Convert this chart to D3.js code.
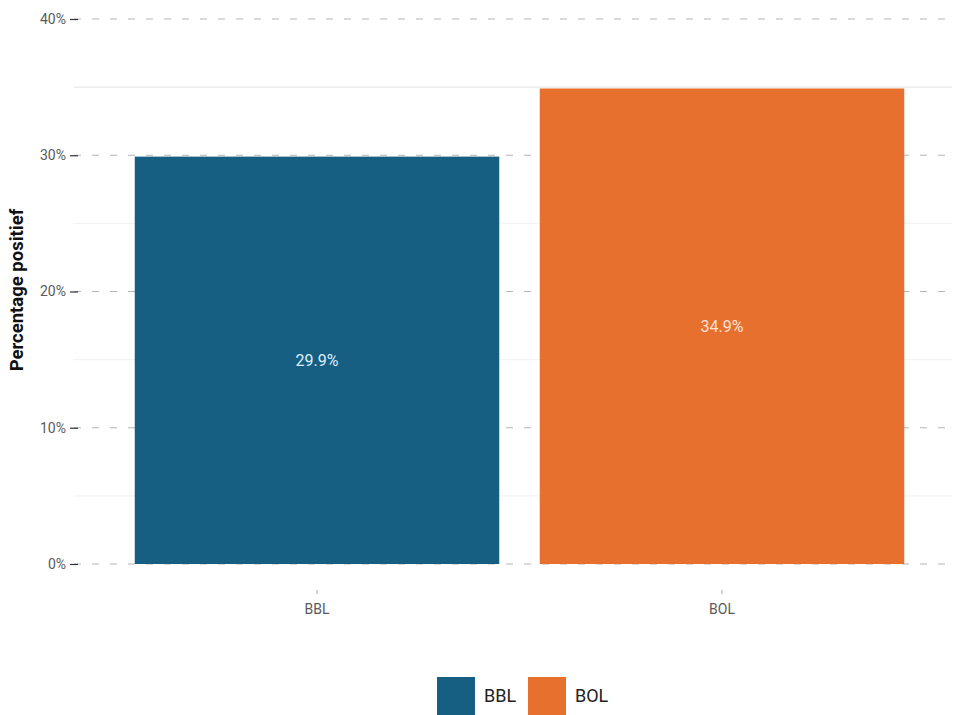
<!DOCTYPE html>
<html><head><meta charset="utf-8">
<script src="https://cdn.jsdelivr.net/npm/d3@7"></script>
<style>body{margin:0;background:#fff;} svg{display:block;font-family:Roboto, "Liberation Sans", sans-serif;}</style>
</head><body><svg id="c" width="964" height="715"></svg>
<script>
const categories = ["BBL", "BOL"];
const values = [29.9, 34.9];
const valueLabels = ["29.9%", "34.9%"];
const colors = ["#165f83", "#e8702f"];
const yTicks = [0, 10, 20, 30, 40];
const yMinor = [5, 15, 25, 35];
const yTickLabels = ["0%", "10%", "20%", "30%", "40%"];

(function () {
const svg = d3.select("#c");
const pLeft = 74, pRight = 965, pTop = 19, pBottom = 564;
const x = d3.scaleBand().domain(categories).range([pLeft, pRight]).paddingInner(0.1).paddingOuter(0.15);
const y = d3.scaleLinear().domain([0, 40]).range([pBottom, pTop]);
const gridRight = 952;

// minor grid
svg.append("g").selectAll("line").data(yMinor).join("line")
  .attr("x1", pLeft).attr("x2", gridRight).attr("y1", d => y(d)).attr("y2", d => y(d))
  .attr("stroke", d => d === 35 ? "#e8e8e8" : "#f3f3f3").attr("stroke-width", 1.3);
// major grid dashed
svg.append("g").selectAll("line").data(yTicks).join("line")
  .attr("x1", pLeft).attr("x2", gridRight).attr("y1", d => y(d)).attr("y2", d => y(d))
  .attr("stroke", "#b5b5b5").attr("stroke-width", 1.2).attr("stroke-dasharray", "7,11");

// bars
svg.append("g").selectAll("rect").data(categories).join("rect")
  .attr("x", d => x(d)).attr("width", x.bandwidth())
  .attr("y", (d, i) => y(values[i])).attr("height", (d, i) => y(0) - y(values[i]))
  .attr("fill", (d, i) => colors[i]);

// value labels
svg.append("g").selectAll("text").data(categories).join("text")
  .attr("x", d => x(d) + x.bandwidth() / 2)
  .attr("y", (d, i) => y(values[i] / 2))
  .attr("dy", "0.35em").attr("text-anchor", "middle")
  .attr("font-size", 16).attr("fill", (d, i) => i === 0 ? "#dcefff" : "#fbe3d6")
  .text((d, i) => valueLabels[i]);

// y axis
const yAxis = d3.axisLeft(y).tickValues(yTicks).tickFormat((d, i) => yTickLabels[i]).tickSize(8).tickPadding(4);
const ya = svg.append("g").attr("transform", `translate(${pLeft + 4},0)`).call(yAxis);
ya.select(".domain").remove();
ya.selectAll("line").attr("stroke", "#333").attr("stroke-width", 1.2);
ya.selectAll("text").attr("font-size", 14).attr("fill", "#5a5a5a").attr("font-family", "Roboto, sans-serif");

// x axis
const xAxis = d3.axisBottom(x).tickSize(4).tickPadding(10);
const xa = svg.append("g").attr("transform", `translate(0,${pBottom + 26})`).call(xAxis);
xa.select(".domain").remove();
xa.selectAll("line").attr("stroke", "#aaa");
xa.selectAll("text").attr("font-size", 14).attr("fill", "#5a5a5a").attr("font-family", "Roboto, sans-serif");

// y title
svg.append("text").attr("transform", "translate(17,290) rotate(-90)")
  .attr("text-anchor", "middle").attr("dy", "0.35em").attr("font-size", 18.5).attr("font-weight", "bold").attr("fill", "#111")
  .text("Percentage positief");

// legend
const legX = [437, 528];
const lg = svg.append("g").selectAll("g").data(categories).join("g")
  .attr("transform", (d, i) => `translate(${legX[i]},677)`);
lg.append("rect").attr("width", 38).attr("height", 38).attr("fill", (d, i) => colors[i]);
lg.append("text").attr("x", 47).attr("y", 19).attr("dy", "0.35em").attr("font-size", 18).attr("fill", "#222").text(d => d);
})();
</script></body></html>
